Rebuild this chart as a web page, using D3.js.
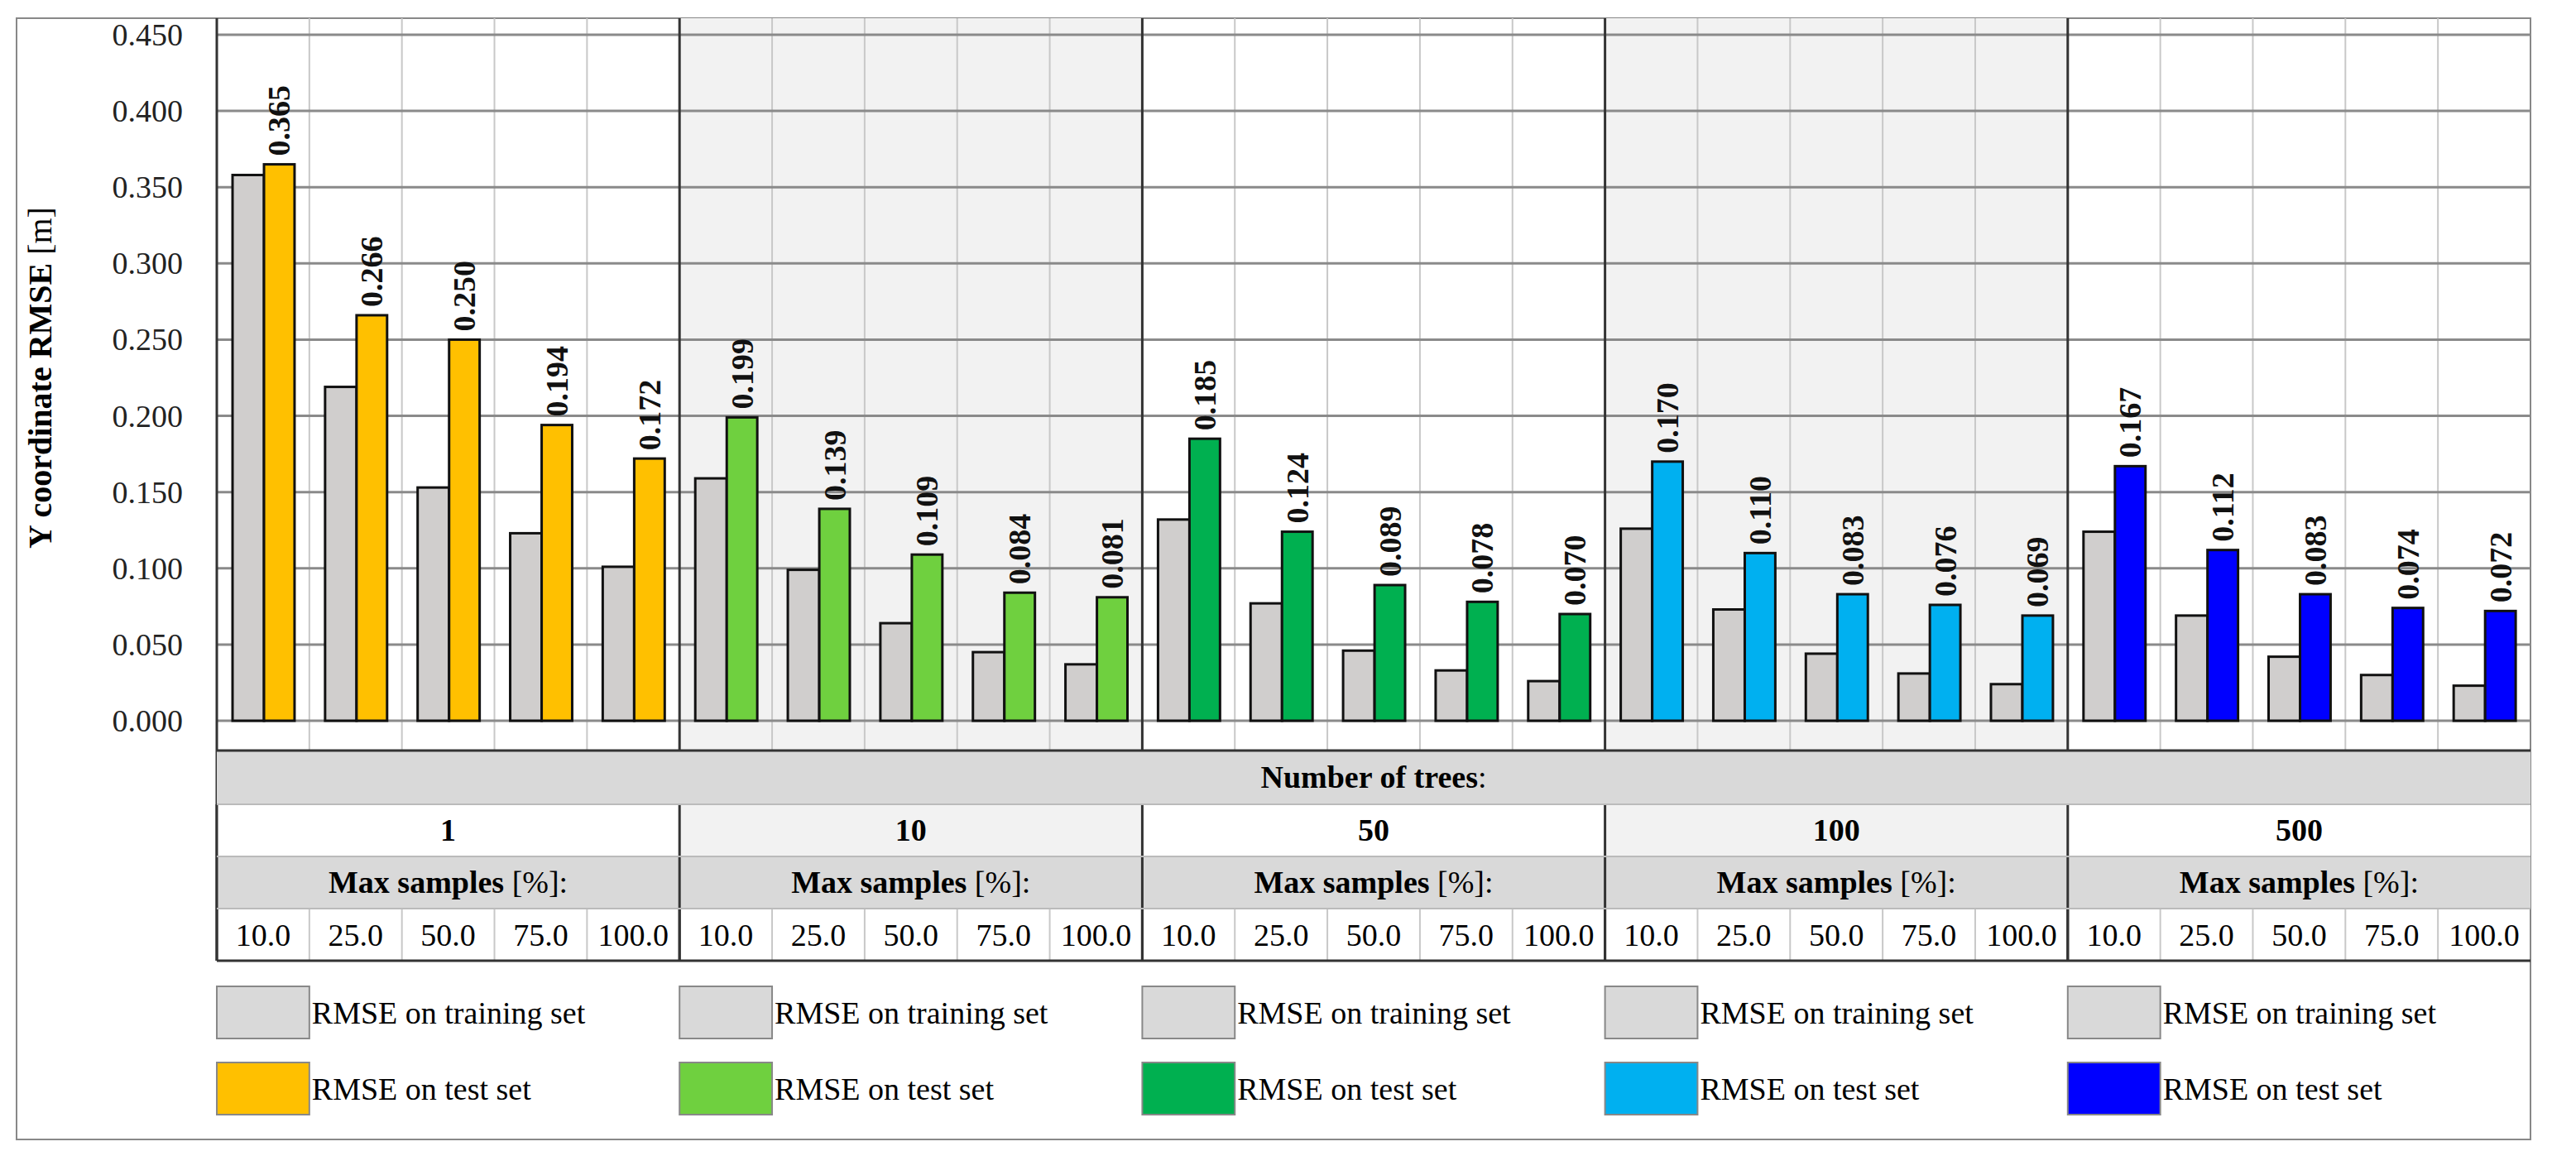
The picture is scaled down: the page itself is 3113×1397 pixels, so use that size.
<!DOCTYPE html>
<html><head><meta charset="utf-8">
<script src="https://cdn.jsdelivr.net/npm/d3@7"></script>
<style>body{margin:0;background:#fff}text{font-family:"Liberation Serif","DejaVu Serif",serif}</style>
</head><body>
<svg id="chart" width="3113" height="1397"></svg>
<script>
const trees = ['1', '10', '50', '100', '500'];
const samples = ['10.0', '25.0', '50.0', '75.0', '100.0'];
const trainVals = [
  [0.358, 0.219, 0.153, 0.123, 0.101],
  [0.159, 0.099, 0.064, 0.045, 0.037],
  [0.132, 0.077, 0.046, 0.033, 0.026],
  [0.126, 0.073, 0.044, 0.031, 0.024],
  [0.124, 0.069, 0.042, 0.030, 0.023]
];
const testVals = [
  [0.365, 0.266, 0.250, 0.194, 0.172],
  [0.199, 0.139, 0.109, 0.084, 0.081],
  [0.185, 0.124, 0.089, 0.078, 0.070],
  [0.170, 0.110, 0.083, 0.076, 0.069],
  [0.167, 0.112, 0.083, 0.074, 0.072]
];
const testColors = ['#ffc000', '#6fd03f', '#00b050', '#00b0f0', '#0000ff'];
const trainColor = '#d0cecd';
const yTicks = d3.range(0, 0.4501, 0.05);

const svg = d3.select('#chart');
const plotLeft = 262, plotRight = 3058, plotTop = 42, zeroY = 871, gridBottom = 907;

const y = d3.scaleLinear().domain([0, 0.45]).range([zeroY, plotTop]);
const xs = d3.scaleBand().domain(trees).range([plotLeft, plotRight]);
const xc = d3.scaleBand().domain(samples).range([0, xs.bandwidth()]);

// outer frame
svg.append('rect').attr('x', 20).attr('y', 22).attr('width', plotRight - 20).attr('height', 1377 - 22)
  .attr('fill', 'none').attr('stroke', '#888').attr('stroke-width', 2);

// shaded sections
trees.forEach((t, i) => {
  if (i % 2 === 1) {
    svg.append('rect').attr('x', xs(t)).attr('y', 22).attr('width', xs.bandwidth())
      .attr('height', gridBottom - 22).attr('fill', '#f2f2f2');
  }
});

// vertical light grid
trees.forEach(t => samples.forEach((s, j) => {
  if (j > 0) svg.append('line').attr('x1', xs(t) + xc(s)).attr('x2', xs(t) + xc(s))
    .attr('y1', 22).attr('y2', gridBottom).attr('stroke', '#c8c8c8').attr('stroke-width', 2);
}));

// horizontal grid
svg.append('g').selectAll('line').data(yTicks).join('line')
  .attr('x1', plotLeft).attr('x2', plotRight).attr('y1', d => y(d)).attr('y2', d => y(d))
  .attr('stroke', '#8a8a8a').attr('stroke-width', 3);

// y tick labels
svg.append('g').selectAll('text').data(yTicks).join('text')
  .attr('x', 221).attr('y', d => y(d) + 13).attr('text-anchor', 'end')
  .attr('font-size', 38).attr('fill', '#222').text(d => d.toFixed(3));

svg.append('text').attr('transform', `translate(62,${(plotTop + zeroY) / 2}) rotate(-90)`)
  .attr('text-anchor', 'middle').attr('font-size', 40).attr('font-weight', 'bold')
  .html('Y coordinate RMSE <tspan font-weight="normal">[m]</tspan>');

// bars
const bw = xc.bandwidth();
trees.forEach((t, i) => {
  samples.forEach((s, j) => {
    const x0 = xs(t) + xc(s);
    svg.append('rect').attr('x', x0 + bw * 0.17).attr('width', bw * 0.34)
      .attr('y', y(trainVals[i][j])).attr('height', zeroY - y(trainVals[i][j]))
      .attr('fill', trainColor).attr('stroke', '#111').attr('stroke-width', 3);
    svg.append('rect').attr('x', x0 + bw * 0.51).attr('width', bw * 0.33)
      .attr('y', y(testVals[i][j])).attr('height', zeroY - y(testVals[i][j]))
      .attr('fill', testColors[i]).attr('stroke', '#111').attr('stroke-width', 3);
    const lx = x0 + bw * 0.675 + 13, ly = y(testVals[i][j]) - 10;
    svg.append('text').attr('transform', `translate(${lx},${ly}) rotate(-90)`)
      .attr('font-size', 38).attr('font-weight', 'bold').attr('fill', '#111')
      .text(testVals[i][j].toFixed(3));
  });
});

// section separators
trees.forEach((t, i) => {
  if (i > 0) svg.append('line').attr('x1', xs(t)).attr('x2', xs(t)).attr('y1', 22).attr('y2', 1161)
    .attr('stroke', '#333').attr('stroke-width', 3);
});
svg.append('line').attr('x1', plotLeft).attr('x2', plotLeft).attr('y1', 22).attr('y2', 1161)
  .attr('stroke', '#333').attr('stroke-width', 3);

// table below
const rows = [907, 972, 1035, 1098, 1161];
svg.append('rect').attr('x', plotLeft).attr('y', rows[0]).attr('width', plotRight - plotLeft).attr('height', rows[1] - rows[0])
  .attr('fill', '#d9d9d9');
svg.append('text').attr('x', (plotLeft + plotRight) / 2).attr('y', rows[0] + 45).attr('text-anchor', 'middle')
  .attr('font-size', 38).attr('font-weight', 'bold').html('Number of trees<tspan font-weight="normal">:</tspan>');
trees.forEach((t, i) => {
  svg.append('rect').attr('x', xs(t)).attr('y', rows[1]).attr('width', xs.bandwidth()).attr('height', rows[2] - rows[1])
    .attr('fill', i % 2 ? '#f2f2f2' : '#fff');
  svg.append('text').attr('x', xs(t) + xs.bandwidth() / 2).attr('y', rows[1] + 44).attr('text-anchor', 'middle')
    .attr('font-size', 38).attr('font-weight', 'bold').text(t);
  svg.append('rect').attr('x', xs(t)).attr('y', rows[2]).attr('width', xs.bandwidth()).attr('height', rows[3] - rows[2])
    .attr('fill', '#d9d9d9');
  svg.append('text').attr('x', xs(t) + xs.bandwidth() / 2).attr('y', rows[2] + 44).attr('text-anchor', 'middle')
    .attr('font-size', 38).attr('font-weight', 'bold').html('Max samples <tspan font-weight="normal">[%]:</tspan>');
  samples.forEach((s, j) => {
    const x0 = xs(t) + xc(s);
    if (j > 0) svg.append('line').attr('x1', x0).attr('x2', x0).attr('y1', rows[3]).attr('y2', rows[4])
      .attr('stroke', '#c8c8c8').attr('stroke-width', 2);
    svg.append('text').attr('x', x0 + bw / 2).attr('y', rows[3] + 45).attr('text-anchor', 'middle')
      .attr('font-size', 38).text(s);
  });
  svg.append('line').attr('x1', xs(t)).attr('x2', xs(t)).attr('y1', rows[1]).attr('y2', rows[4])
    .attr('stroke', '#333').attr('stroke-width', 3);

  // legend
  const lx = xs(t);
  svg.append('rect').attr('x', lx).attr('y', 1192).attr('width', bw).attr('height', 63)
    .attr('fill', '#d9d9d9').attr('stroke', '#888').attr('stroke-width', 2);
  svg.append('text').attr('x', lx + bw + 3).attr('y', 1237).attr('font-size', 38).text('RMSE on training set');
  svg.append('rect').attr('x', lx).attr('y', 1284).attr('width', bw).attr('height', 63)
    .attr('fill', testColors[i]).attr('stroke', '#888').attr('stroke-width', 2);
  svg.append('text').attr('x', lx + bw + 3).attr('y', 1329).attr('font-size', 38).text('RMSE on test set');
});
rows.forEach((r, k) => {
  svg.append('line').attr('x1', plotLeft).attr('x2', plotRight).attr('y1', r).attr('y2', r)
    .attr('stroke', k === 0 || k === 4 ? '#333' : '#bbb').attr('stroke-width', k === 0 || k === 4 ? 3 : 2);
});
</script>
</body></html>
